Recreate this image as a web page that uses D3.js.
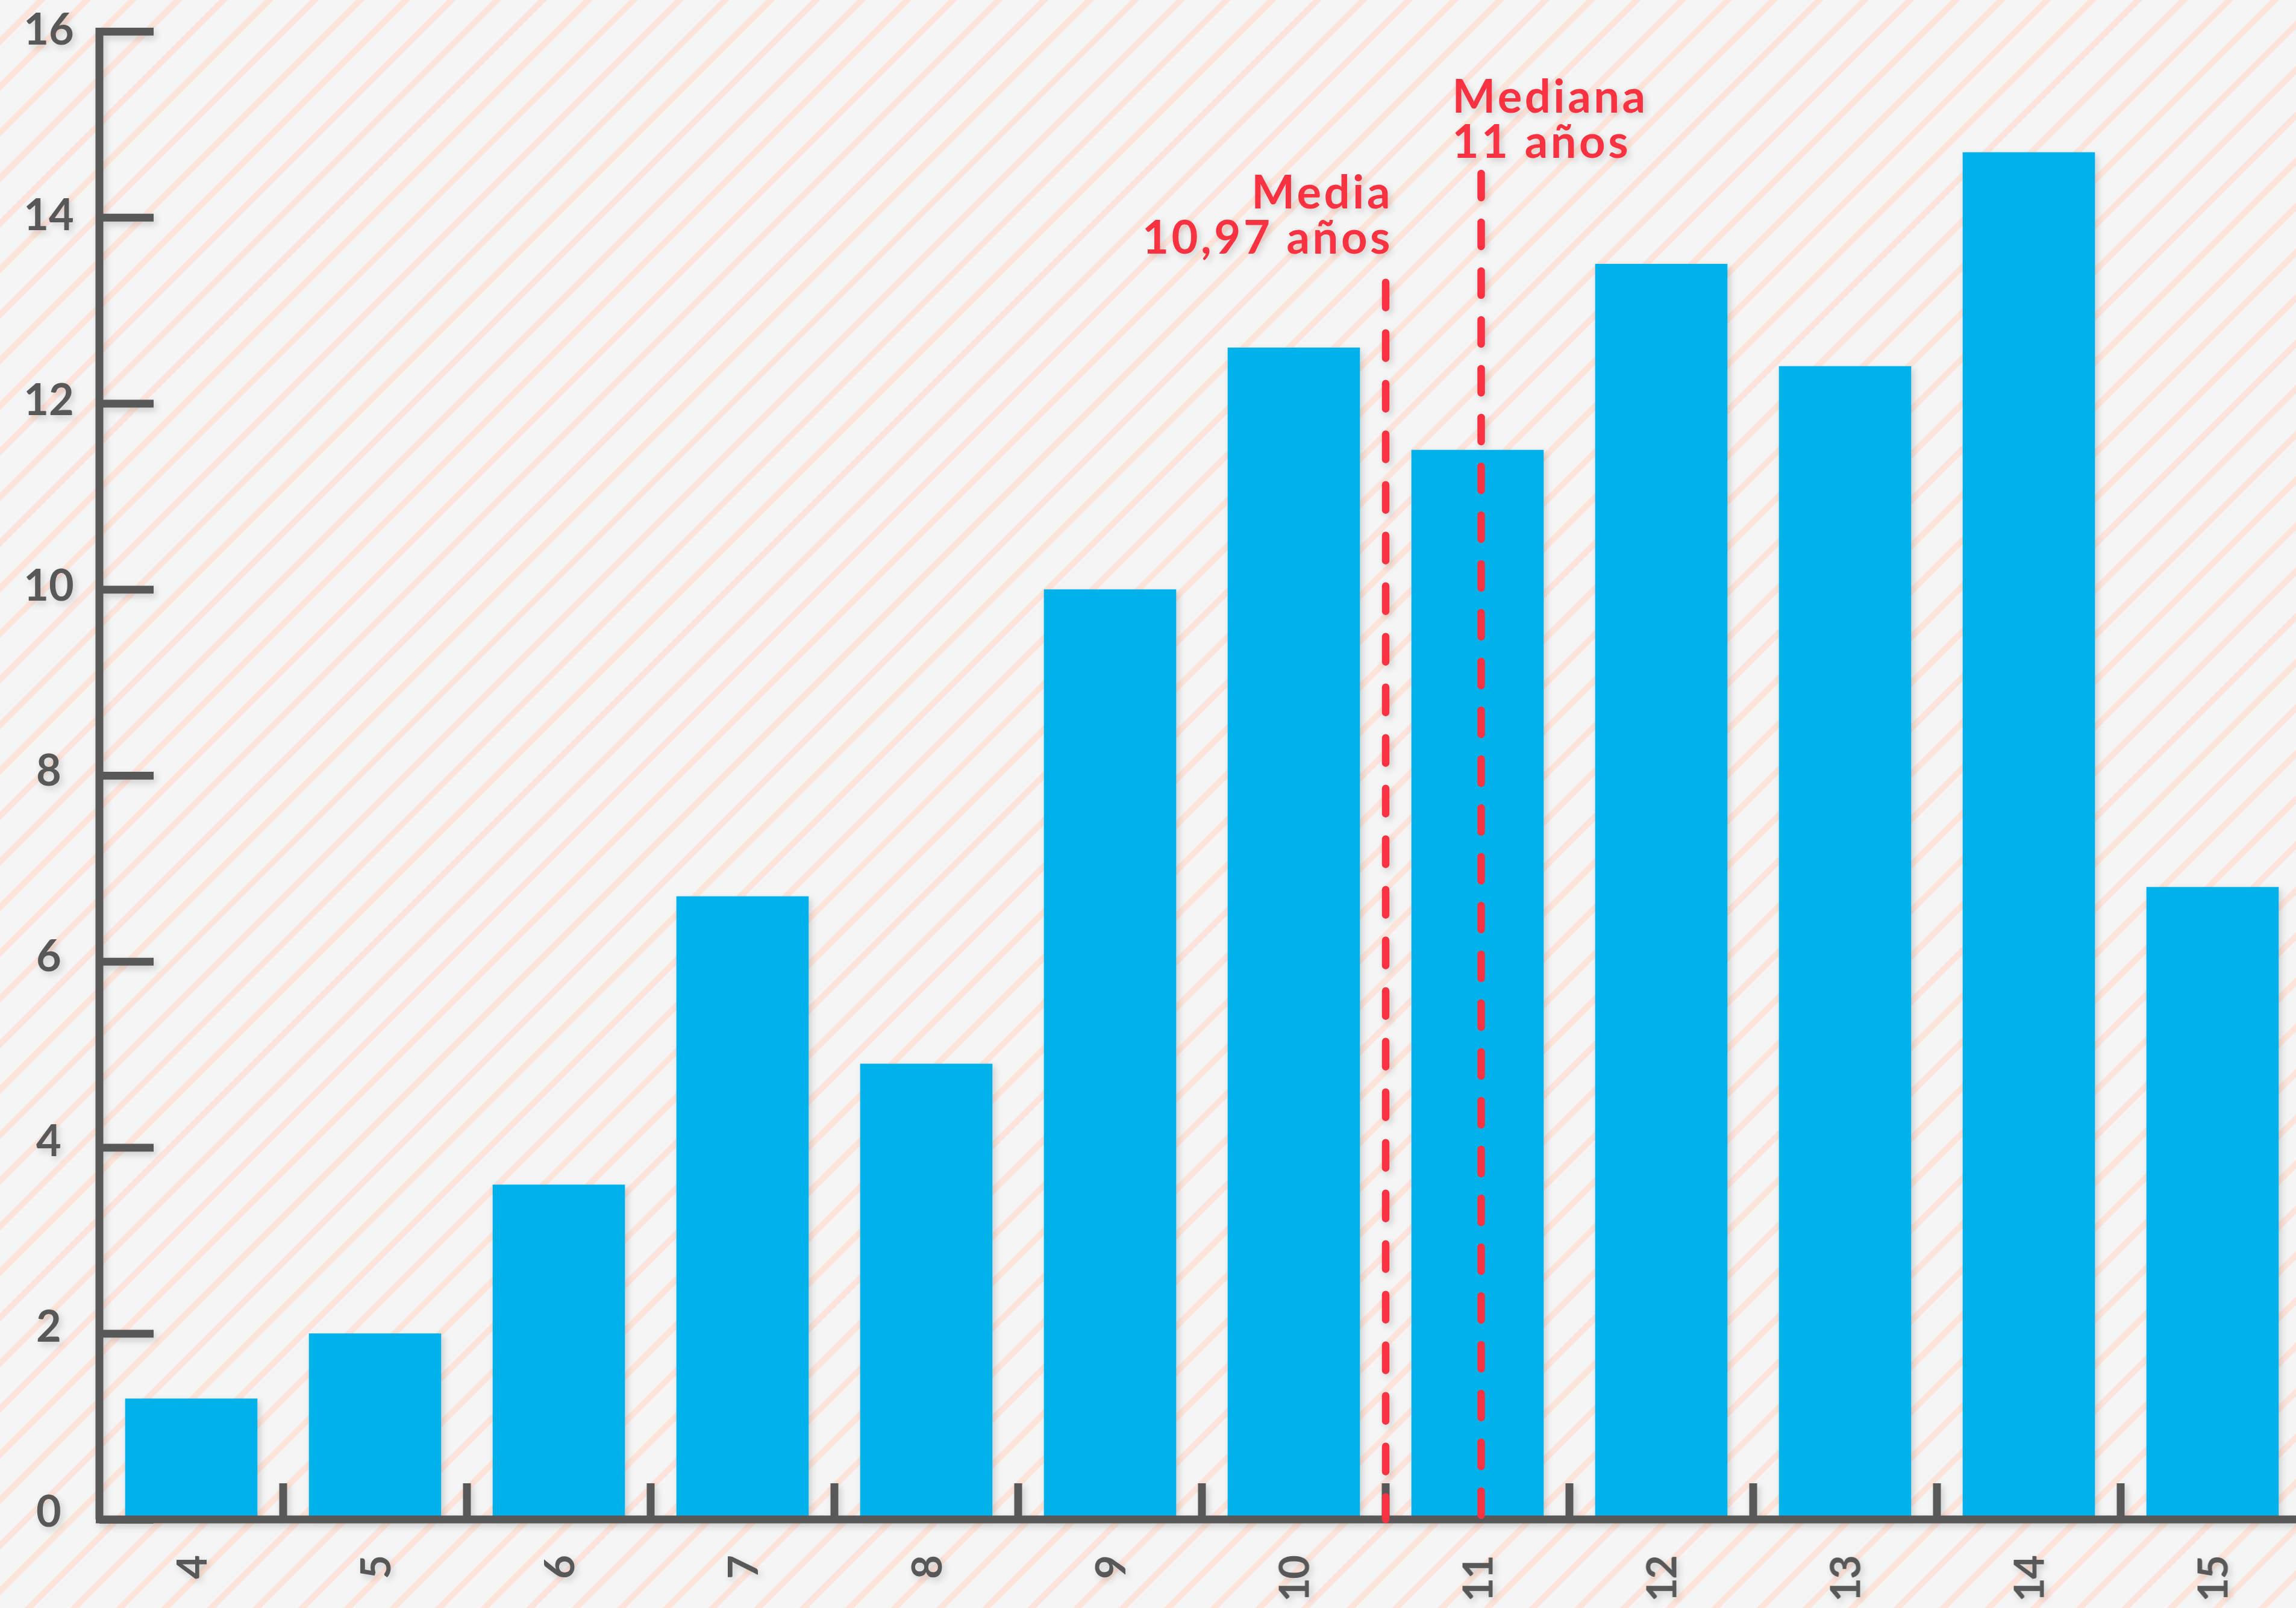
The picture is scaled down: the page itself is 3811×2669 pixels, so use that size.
<!DOCTYPE html>
<html>
<head>
<meta charset="utf-8">
<script src="https://cdn.jsdelivr.net/npm/d3@7"></script>
<style>
  body { margin: 0; background: #f5f5f5; }
  svg { display: block; }
</style>
</head>
<body>
<script>
// ages on the x axis and share of each age (bar heights)
const ages = ["4", "5", "6", "7", "8", "9", "10", "11", "12", "13", "14", "15"];
const values = [1.3, 2.0, 3.6, 6.7, 4.9, 10.0, 12.6, 11.5, 13.5, 12.4, 14.7, 6.8];
const yTicks = [0, 2, 4, 6, 8, 10, 12, 14, 16];

// reference lines: the chart puts "Media" on the 10|11 boundary and "Mediana" on bar 11
const refNames = ["Media", "Mediana"];
const refValues = ["10,97 años", "11 años"];
const refTops = [13.34, 14.51];

const W = 3811, H = 2669;
const grey = "#595959", blue = "#00b1ea", red = "#f8333f";

const svg = d3.select("body").append("svg")
  .attr("width", W)
  .attr("height", H);

const defs = svg.append("defs");
const pat = defs.append("pattern")
  .attr("id", "stripes")
  .attr("patternUnits", "userSpaceOnUse")
  .attr("width", 53.5)
  .attr("height", 53.5)
  .attr("patternTransform", "rotate(45)");
pat.append("rect").attr("width", 53.5).attr("height", 53.5).attr("fill", "#f5f5f5");
pat.append("rect").attr("x", 43.5).attr("width", 10.6).attr("height", 53.5).attr("fill", "#fde4da");

const f = defs.append("filter").attr("id", "shadow")
  .attr("x", "-20%").attr("y", "-20%").attr("width", "140%").attr("height", "140%");
f.append("feDropShadow")
  .attr("dx", 4).attr("dy", 5).attr("stdDeviation", 6)
  .attr("flood-color", "#000").attr("flood-opacity", 0.16);

svg.append("rect").attr("width", W).attr("height", H).attr("fill", "url(#stripes)");

const x = d3.scaleBand()
  .domain(ages)
  .range([165, 165 + 305 * ages.length])
  .paddingInner(0.28)
  .paddingOuter(0.14);

const y = d3.scaleLinear()
  .domain([0, 16])
  .range([2522, 52]);

const half = x.step() * x.paddingInner() / 2;

const g = svg.append("g").attr("filter", "url(#shadow)");

// bars
g.selectAll(".bar")
  .data(values)
  .enter()
  .append("rect")
  .attr("class", "bar")
  .attr("x", (d, i) => x(ages[i]))
  .attr("y", d => y(d))
  .attr("width", x.bandwidth())
  .attr("height", d => y(0) - y(d))
  .attr("fill", blue);

// y axis
const yAxis = d3.axisRight(y)
  .tickValues(yTicks)
  .tickSize(90)
  .tickSizeOuter(0)
  .tickFormat("");
const ya = g.append("g")
  .attr("transform", "translate(165,0)")
  .call(yAxis);
ya.select(".domain").attr("stroke", grey).attr("stroke-width", 13)
  .attr("d", `M0,${y(16) - 6}V${y(0)}`);
ya.selectAll(".tick line").attr("stroke", grey).attr("stroke-width", 13);

g.selectAll(".ylab")
  .data(yTicks)
  .enter()
  .append("text")
  .attr("class", "ylab")
  .attr("x", 81)
  .attr("y", d => y(d) + 22 - (16 - d) * 0.6)
  .attr("text-anchor", "middle")
  .attr("font-family", "Lato")
  .attr("font-weight", 700)
  .attr("font-size", 72)
  .attr("fill", grey)
  .text(d => d);

// x axis: ticks sit on the boundaries between bars
const xa = g.append("g");
xa.append("line")
  .attr("x1", 159).attr("x2", W)
  .attr("y1", y(0)).attr("y2", y(0))
  .attr("stroke", grey).attr("stroke-width", 13);
xa.selectAll(".xtick")
  .data(ages.slice(1))
  .enter()
  .append("line")
  .attr("class", "xtick")
  .attr("x1", d => x(d) - half)
  .attr("x2", d => x(d) - half)
  .attr("y1", y(0) - 60)
  .attr("y2", y(0))
  .attr("stroke", grey)
  .attr("stroke-width", 13);

g.selectAll(".xlab")
  .data(ages)
  .enter()
  .append("text")
  .attr("class", "xlab")
  .attr("transform", d => `translate(${x(d) + x.bandwidth() / 2 + 25},2583) rotate(-90)`)
  .attr("text-anchor", "end")
  .attr("font-family", "Lato")
  .attr("font-weight", 700)
  .attr("font-size", 69)
  .attr("letter-spacing", -2)
  .attr("fill", grey)
  .text(d => d);

// reference lines
const refX = [x("11") - half, x("11") + x.bandwidth() / 2 + 6];
const dashes = ["42 42", "40 41"];

refNames.forEach((name, i) => {
  const rg = g.append("g");
  rg.append("line")
    .attr("x1", refX[i]).attr("x2", refX[i])
    .attr("y1", y(refTops[i]) + 6)
    .attr("y2", y(0))
    .attr("stroke", red)
    .attr("stroke-width", 12.5)
    .attr("stroke-linecap", "round")
    .attr("stroke-dasharray", dashes[i]);

  const left = i === 0;
  const base = y(refTops[i]) - (left ? 42 : 20);
  const tx = left ? refX[i] + 12 : refX[i] - 48;
  const t = rg.append("text")
    .attr("text-anchor", left ? "end" : "start")
    .attr("font-family", "Lato")
    .attr("font-weight", 700)
    .attr("font-size", 76)
    .attr("letter-spacing", 4.5)
    .attr("fill", red);
  t.append("tspan").attr("x", tx).attr("y", base - 75).text(name);
  t.append("tspan").attr("x", tx).attr("y", base).text(refValues[i]);
});
</script>
</body>
</html>
